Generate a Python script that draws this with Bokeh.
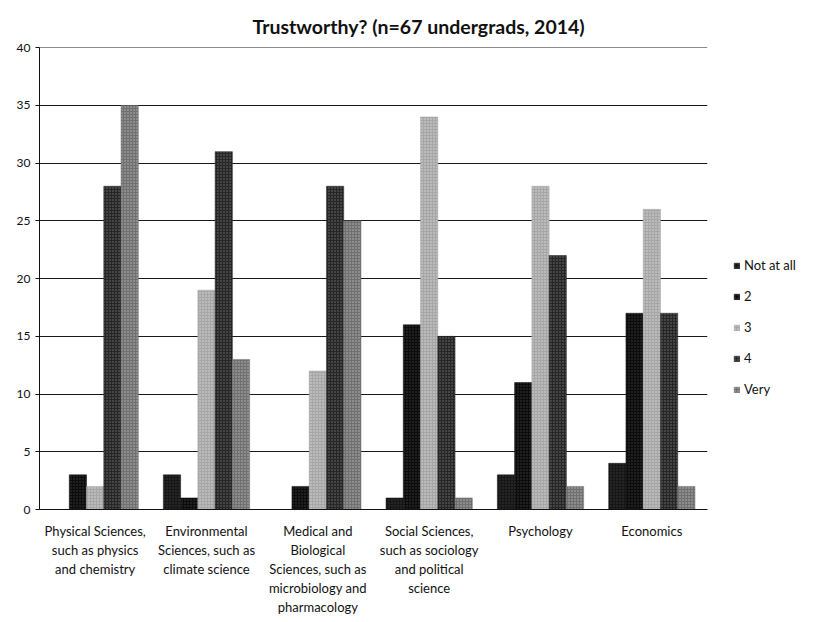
from bokeh.plotting import figure
from bokeh.models import ColumnDataSource, Legend, LegendItem, FixedTicker, Range1d
from bokeh.transform import dodge
from bokeh.embed import file_html
from bokeh.resources import INLINE

categories = [
    "Physical Sciences,\nsuch as physics\nand chemistry",
    "Environmental\nSciences, such as\nclimate science",
    "Medical and\nBiological\nSciences, such as\nmicrobiology and\npharmacology",
    "Social Sciences,\nsuch as sociology\nand political\nscience",
    "Psychology",
    "Economics",
]
series_names = ["Not at all", "2", "3", "4", "Very"]
not_at_all = [0, 3, 0, 1, 3, 4]
two = [3, 1, 2, 16, 11, 17]
three = [2, 19, 12, 34, 28, 26]
four = [28, 31, 28, 15, 22, 17]
very = [35, 13, 25, 1, 2, 2]
y_ticks = [0, 5, 10, 15, 20, 25, 30, 35, 40]

colors = ["#161616", "#0c0c0c", "#a6a6a6", "#262626", "#707070"]
hatch_alphas = [0.15, 0.2, 0.6, 0.35, 0.5]

source = ColumnDataSource(dict(cat=categories, s0=not_at_all, s1=two, s2=three, s3=four, s4=very))

FONT = "Lato"
p = figure(x_range=categories, y_range=Range1d(0, 40.02),
           frame_width=668, frame_height=462,
           output_backend="svg", toolbar_location=None,
           min_border_left=39, min_border_right=0, min_border_top=47, min_border_bottom=0)

p.title.text = "Trustworthy? (n=67 undergrads, 2014)"
p.title.text_font = FONT
p.title.text_font_size = "19.5px"
p.title.text_font_style = "bold"
p.title.align = "left"
p.title.offset = 213
p.title.standoff = 20
p.title.text_color = "#111111"

bw = 0.155
offsets = [-2 * bw, -bw, 0, bw, 2 * bw]
items = []
for i, name in enumerate(series_names):
    r = p.vbar(x=dodge("cat", offsets[i], range=p.x_range), top=f"s{i}", width=bw, source=source,
               fill_color=colors[i], line_color=colors[i], line_width=0.5,
               hatch_pattern="dot", hatch_color="white", hatch_alpha=hatch_alphas[i], hatch_scale=3)
    items.append(LegendItem(label=name, renderers=[r]))

legend = Legend(items=items, location=(26, 110), border_line_color=None, background_fill_alpha=0,
                label_text_font=FONT, label_text_font_size="13px", label_text_color="#111111",
                glyph_width=7, glyph_height=7, spacing=11, label_standoff=4, padding=0, margin=0,
                label_height=20)
p.add_layout(legend, "right")

p.yaxis.ticker = FixedTicker(ticks=y_ticks)
p.ygrid.ticker = FixedTicker(ticks=y_ticks)
p.ygrid.grid_line_color = "#1a1a1a"
p.ygrid.grid_line_width = 1
p.xgrid.grid_line_color = None
p.outline_line_color = None

for ax in (p.xaxis, p.yaxis):
    ax.axis_line_color = "#111111"
    ax.major_label_text_font = FONT
    ax.major_label_text_color = "#111111"
    ax.minor_tick_line_color = None
p.yaxis.major_label_text_font_size = "12px"
p.xaxis.major_label_text_font_size = "13px"
p.xaxis.major_label_text_line_height = 1.2
p.xaxis.major_tick_line_color = None
p.yaxis.major_tick_out = 4
p.yaxis.major_tick_in = 0
p.yaxis.major_tick_line_color = "#111111"
p.xaxis.major_label_standoff = 7
p.x_range.range_padding = 0.0

open("out.html", "w").write(file_html(p, INLINE))
